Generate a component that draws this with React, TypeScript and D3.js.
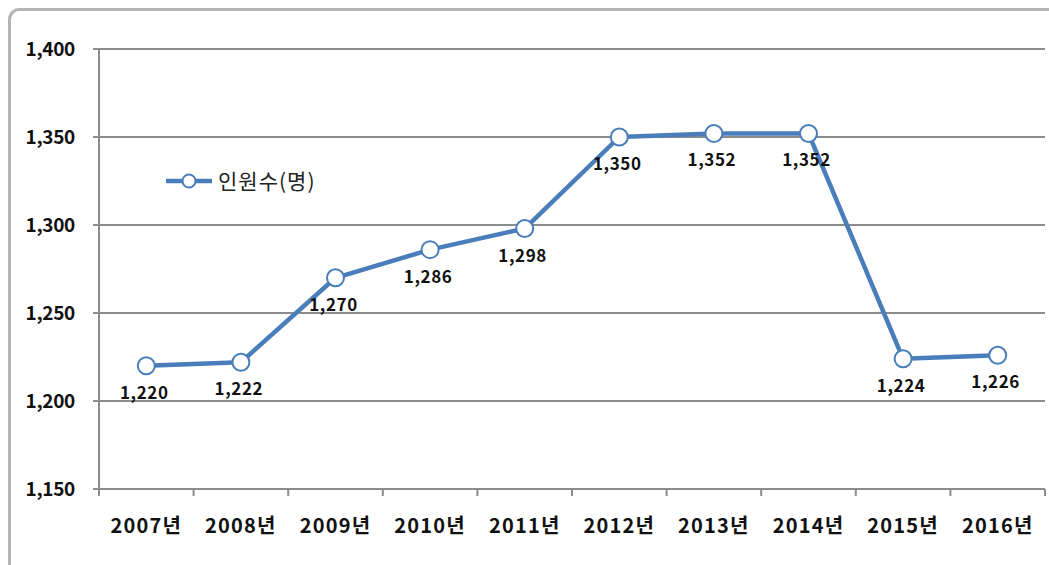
import React from "react";
import * as d3 from "d3";

const years = ["2007년", "2008년", "2009년", "2010년", "2011년", "2012년", "2013년", "2014년", "2015년", "2016년"];
const staff = [1220, 1222, 1270, 1286, 1298, 1350, 1352, 1352, 1224, 1226];
const yTicks = [1150, 1200, 1250, 1300, 1350, 1400];
const seriesName = "인원수(명)";

const W = 1049, H = 565;
const M = { left: 99, right: 1045, top: 49, bottom: 489 };
const BLUE = "#4a7ebb";
const GRID = "#8c8c8c";
const FONT = "'Noto Sans CJK KR', 'Noto Sans', sans-serif";

export default function App() {
  const x = d3.scaleBand<string>().domain(years).range([M.left, M.right]);
  const y = d3.scaleLinear().domain([1150, 1400]).range([M.bottom, M.top]);
  const cx = (d: string) => (x(d) as number) + x.bandwidth() / 2;
  const line = d3.line<number>().x((_, i) => cx(years[i])).y((v) => y(v));
  const fmt = d3.format(",");
  const boundaries = years.map((d) => x(d) as number).concat([M.right]);

  return (
    <svg width={W} height={H} style={{ position: "absolute", left: 0, top: 0, background: "#fff" }}>
      <rect x={9.5} y={9.5} width={W + 40} height={H + 40} rx={10} fill="#fff" stroke="#b4b4b4" strokeWidth={3} />
      {yTicks.map((t) => (
        <g key={t}>
          <line x1={M.left - 6} x2={M.right} y1={y(t)} y2={y(t)} stroke={GRID} strokeWidth={2} />
          <text x={75} y={y(t)} dy="0.36em" textAnchor="end" fontFamily={FONT} fontWeight="bold" fontSize={19} fill="#111" letterSpacing={-0.3}>
            {fmt(t)}
          </text>
        </g>
      ))}
      <line x1={M.left} x2={M.left} y1={M.top} y2={M.bottom} stroke={GRID} strokeWidth={2} />
      {boundaries.map((b, i) => (
        <line key={i} x1={b} x2={b} y1={M.bottom} y2={M.bottom + 7} stroke={GRID} strokeWidth={2} />
      ))}
      {years.map((d) => (
        <text key={d} x={cx(d)} y={533} textAnchor="middle" fontFamily={FONT} fontWeight="bold" fontSize={20} fill="#111" letterSpacing={1.2}>
          {d}
        </text>
      ))}
      <path d={line(staff) || ""} fill="none" stroke={BLUE} strokeWidth={4.5} strokeLinejoin="round" />
      {staff.map((v, i) => (
        <circle key={i} cx={cx(years[i])} cy={y(v)} r={8.5} fill="#fff" stroke={BLUE} strokeWidth={2} />
      ))}
      {staff.map((v, i) => (
        <text key={i} x={cx(years[i]) - 2} y={y(v) + 33} textAnchor="middle" fontFamily={FONT} fontWeight="bold" fontSize={17} fill="#111" letterSpacing={0.6}>
          {fmt(v)}
        </text>
      ))}
      <g>
        <line x1={166} x2={212} y1={181} y2={181} stroke={BLUE} strokeWidth={4.5} />
        <circle cx={189} cy={181} r={6.5} fill="#fff" stroke={BLUE} strokeWidth={2} />
        <text x={218} y={181} dy="0.36em" fontFamily={FONT} fontSize={21} fill="#222" letterSpacing={1}>
          {seriesName}
        </text>
      </g>
    </svg>
  );
}
